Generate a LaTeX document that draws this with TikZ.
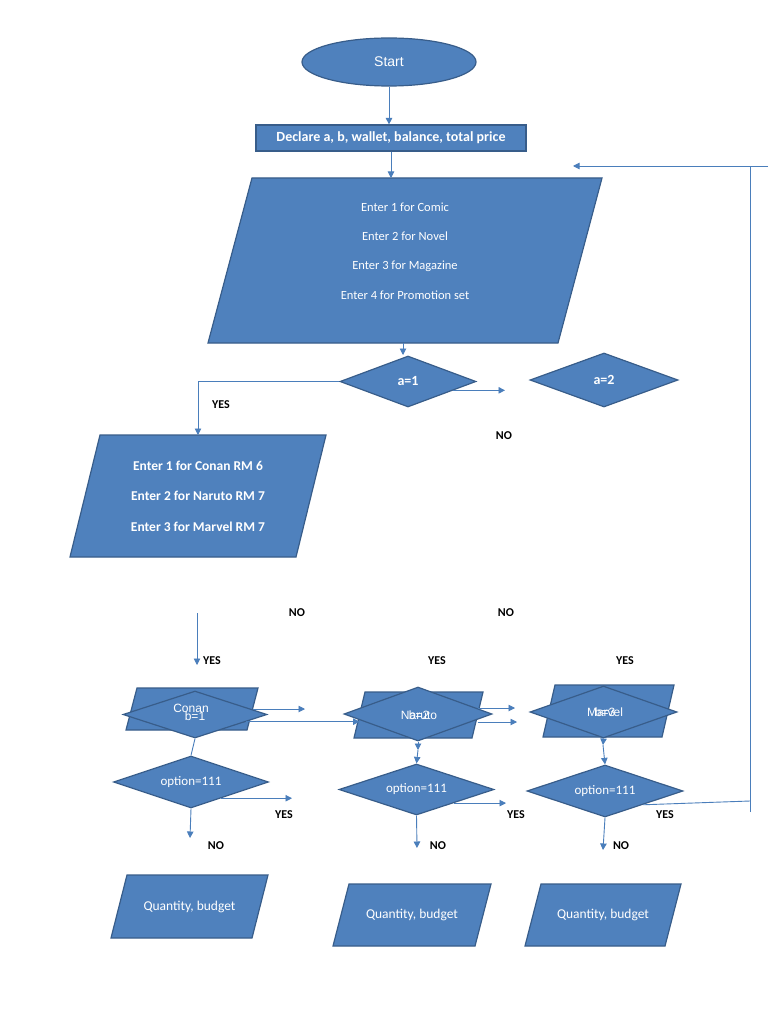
\documentclass[tikz,border=0pt]{standalone}
\usepackage{fontspec}
\setmainfont{Carlito}
\newfontfamily\arialf{Liberation Sans}
\usetikzlibrary{shapes.geometric,arrows.meta}
\definecolor{boxfill}{HTML}{4F81BD}
\definecolor{boxline}{HTML}{385D8A}
\definecolor{conn}{HTML}{4A7EBB}
% parallelogram: name, cx, cy, width, height, slant, text options, text
\newcommand\pgram[8]{%
  \draw[shapebase] ({#2-#4/2},{#3+#5/2}) -- ({#2+#4/2-#6},{#3+#5/2}) -- ({#2+#4/2},{#3-#5/2}) -- ({#2-#4/2+#6},{#3-#5/2}) -- cycle;
  \coordinate (#1n) at ({#2+#6/2},{#3-#5/2});
  \coordinate (#1s) at ({#2-#6/2},{#3+#5/2});
  \coordinate (#1e) at ({#2+#4/2-#6/2},#3);
  \coordinate (#1w) at ({#2-#4/2+#6/2},#3);
  \node[textonly,#7] (#1) at (#2,#3) {#8};}
\begin{document}
\begin{tikzpicture}[x=1pt,y=-1pt,
  shapebase/.style={fill=boxfill,draw=boxline,line width=1.2pt,text=white,inner sep=0pt,align=center,font=\fontsize{13}{15}\selectfont},
  textonly/.style={text=white,inner sep=0pt,align=center,font=\fontsize{13.5}{16}\selectfont},
  dia/.style={shapebase,diamond},
  conline/.style={draw=conn,line width=0.9pt},
  arr/.style={conline,-{Triangle[length=6.5pt,width=6.5pt]}},
  lbl/.style={font=\fontsize{12}{14}\selectfont\bfseries,inner sep=0pt},
  ovl/.style={text=white,inner sep=0pt,font=\arialf\fontsize{12}{14}\selectfont}
]
\useasboundingbox (0,0) rectangle (768,1024);
\fill[white] (0,0) rectangle (768,1024);

% top
\node[shapebase,ellipse,minimum width=174pt,minimum height=48pt,font=\arialf\fontsize{14}{16}\selectfont] (start) at (389,62) {Start};
\node[shapebase,rectangle,minimum width=270pt,minimum height=26pt,font=\fontsize{14}{16}\selectfont\bfseries] (decl) at (391,138) {Declare a, b, wallet, balance, total price};
\pgram{menu}{405}{260.5}{394}{165}{44}{yshift=9.5pt,font=\fontsize{12.5}{29.3}\selectfont}{Enter 1 for Comic\\Enter 2 for Novel\\Enter 3 for Magazine\\Enter 4 for Promotion set}
\node[dia,minimum width=136pt,minimum height=51pt,aspect=2.67,font=\fontsize{14}{16}\selectfont\bfseries] (a1) at (408,381.5) {a=1};
\node[dia,minimum width=148pt,minimum height=54pt,aspect=2.74,font=\fontsize{14}{16}\selectfont\bfseries] (a2) at (604,380) {a=2};
\pgram{comic}{198}{496}{256}{122}{30}{font=\fontsize{13.5}{30.5}\selectfont\bfseries}{Enter 1 for Conan RM 6\\Enter 2 for Naruto RM 7\\Enter 3 for Marvel RM 7}

% column shapes
\pgram{conan}{192}{709}{132}{42}{11}{}{}
\node[dia,minimum width=144pt,minimum height=47pt,aspect=3.06] (b1) at (195,714.5) {};
\pgram{naruto}{418.5}{715}{129}{46}{11}{}{}
\node[dia,minimum width=148pt,minimum height=54pt,aspect=2.74] (b2) at (418,714) {};
\pgram{marvel}{608.5}{711}{131}{52}{12}{}{}
\node[dia,minimum width=147pt,minimum height=52pt,aspect=2.83] (b3) at (603.5,712) {};

\node[ovl] (conant) at (191,708) {Conan};
\node[ovl] (b1t) at (195,716) {b=1};
\node[ovl] (narutot) at (419,715) {Naruto};
\node[ovl] (b2t) at (419,715) {b=2};
\node[ovl] (marvelt) at (605,712) {Marvel};
\node[ovl] (b3t) at (605,712) {b=3};

\node[dia,minimum width=155pt,minimum height=52pt,aspect=2.98] (o1) at (191,782) {option=111};
\node[dia,minimum width=155pt,minimum height=51pt,aspect=3.04] (o2) at (416.5,789.5) {option=111};
\node[dia,minimum width=156pt,minimum height=52pt,aspect=3] (o3) at (605,791) {option=111};

\pgram{q1}{189.5}{906.5}{157}{63}{16}{font=\fontsize{13.5}{16}\selectfont}{Quantity, budget}
\pgram{q2}{412}{915}{158}{62}{16}{font=\fontsize{13.5}{16}\selectfont}{Quantity, budget}
\pgram{q3}{603}{915}{156}{62}{16}{font=\fontsize{13.5}{16}\selectfont}{Quantity, budget}

% free coordinates
\coordinate (a1r) at (505,390);
\coordinate (c1s) at (197,613);
\coordinate (c1e) at (197,665);
\coordinate (r1) at (305,709);
\coordinate (r2a) at (515,708);
\coordinate (r2b) at (517,722);
\coordinate (y1) at (292,798);
\coordinate (y2) at (506,801);
\coordinate (n1) at (190,838);
\coordinate (n2) at (417,848);
\coordinate (n3) at (603,850);
\coordinate (ret1) at (750,801);
\coordinate (retbot) at (750,812);
\coordinate (rettop) at (750,166);
\coordinate (retR) at (768,166);
\coordinate (retL) at (573,166);
\coordinate (m2) at (418,750);
\coordinate (m3) at (603,745);
\coordinate (a1in) at (403,355);

% connectors
\draw[arr] (start.south) -- (start.south |- decl.north);
\draw[arr] (decl.south) -- (decl.south |- menun);
\draw[arr] (menus -| a1in) -- (a1in);
\draw[arr] (a1.west) -| (comic |- comicn);
\draw[arr] (a1.-11) -- (a1.-11 -| a1r);
\draw[arr] (c1s) -- (c1e);
\draw[arr] (conane) -- (conane -| r1);
\draw[arr] (b1.-8) -- (b1.-8 -| narutow);
\draw[conline] (b1.south) -- (o1.north);
\draw[arr] (o1.-28) -- (o1.-28 -| y1);
\draw[arr] (o1.south) -- (n1);
\draw[arr] (narutoe |- r2a) -- (r2a);
\draw[arr] (narutoe |- r2b) -- (r2b);
\draw[arr] (b2.south) -- (m2);
\draw[arr] (m2) -- (o2.north);
\draw[arr] (o2.-20) -- (o2.-20 -| y2);
\draw[arr] (o2.south) -- (n2);
\draw[arr] (b3.south) -- (m3);
\draw[arr] (m3) -- (o3.north);
\draw[conline] (o3.-20) -- (ret1);
\draw[conline] (retbot) -- (rettop);
\draw[arr] (retR) -- (retL);
\draw[arr] (o3.south) -- (n3);

% labels
\node[lbl] (lyes1) at (221,405) {YES};
\node[lbl] (lno1) at (504,436) {NO};
\node[lbl] (lno2) at (297,613) {NO};
\node[lbl] (lno3) at (506,613) {NO};
\node[lbl] (lyes2) at (212,661) {YES};
\node[lbl] (lyes3) at (437,661) {YES};
\node[lbl] (lyes4) at (625,661) {YES};
\node[lbl] (lyes5) at (284,815) {YES};
\node[lbl] (lno4) at (216,846) {NO};
\node[lbl] (lyes6) at (516,815) {YES};
\node[lbl] (lno5) at (438,846) {NO};
\node[lbl] (lyes7) at (665,815) {YES};
\node[lbl] (lno6) at (621,846) {NO};
\end{tikzpicture}
\end{document}
